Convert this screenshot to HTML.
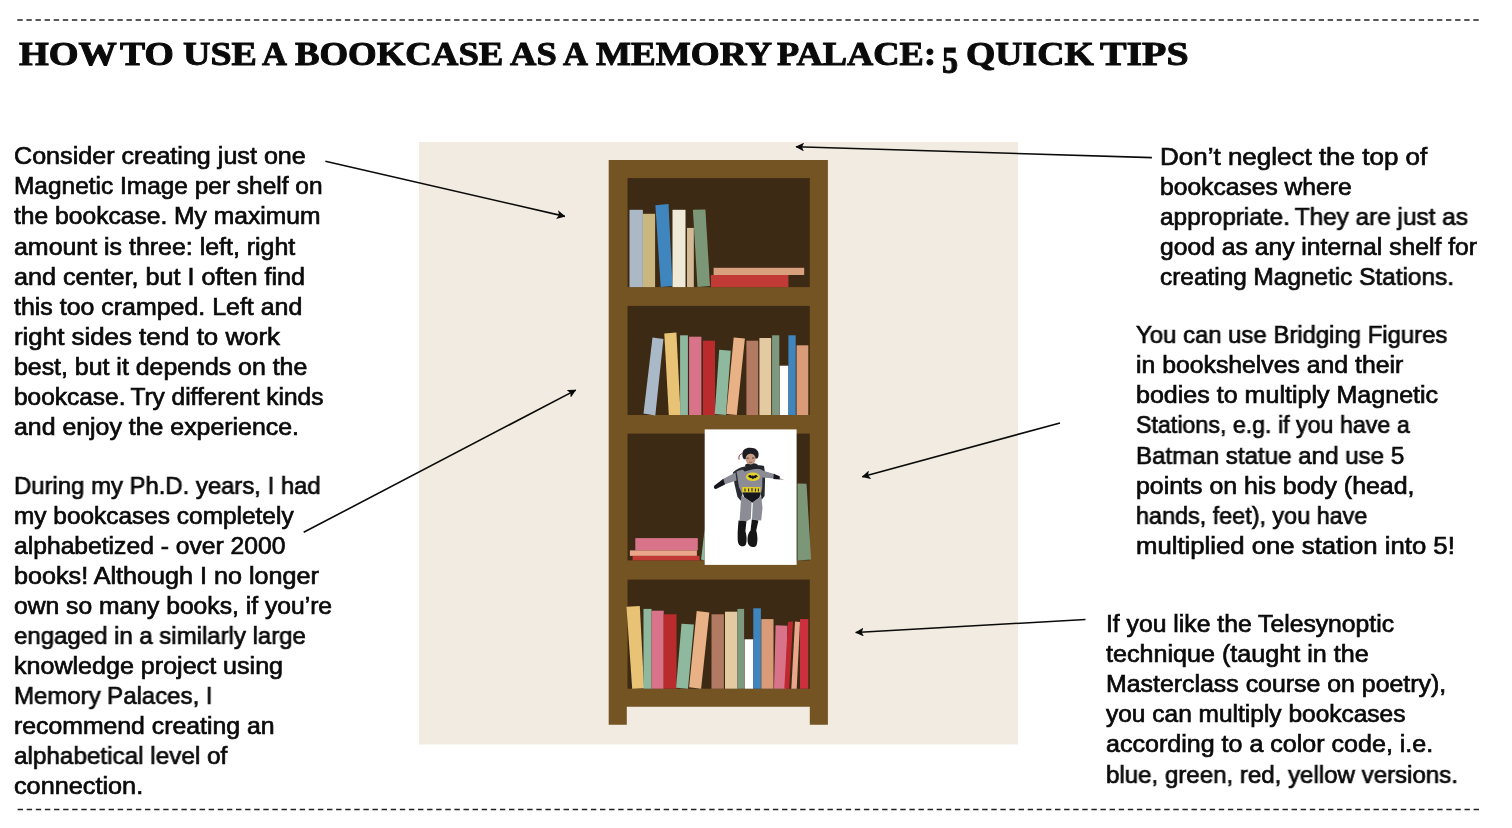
<!DOCTYPE html>
<html lang="en"><head><meta charset="utf-8"><title>How to use a bookcase as a Memory Palace</title>
<style>
html,body{margin:0;padding:0;background:#fff;}
body{width:1512px;height:828px;position:relative;overflow:hidden;font-family:"Liberation Sans",sans-serif;}
.t{position:absolute;white-space:nowrap;font-family:"Liberation Sans",sans-serif;font-size:24.4px;line-height:30px;color:#0a0a0a;transform-origin:0 0;-webkit-text-stroke:0.7px #0a0a0a;will-change:transform;}
.h{position:absolute;white-space:nowrap;font-family:"Liberation Serif",serif;font-weight:bold;font-size:34.4px;line-height:40px;color:#0a0a0a;transform-origin:0 0;-webkit-text-stroke:1px #0a0a0a;will-change:transform;}
svg{position:absolute;left:0;top:0;}
</style></head><body>
<svg width="1512" height="828" viewBox="0 0 1512 828">
<defs>
<marker id="ah" viewBox="0 0 8.6 8.8" refX="8" refY="4.4" markerWidth="8.6" markerHeight="8.8" markerUnits="userSpaceOnUse" orient="auto">
<path d="M0,0 L8.6,4.4 L0,8.8 L2,4.4 Z" fill="#0a0a0a"/>
</marker>
<filter id="soft" x="-10%" y="-10%" width="120%" height="120%"><feGaussianBlur stdDeviation="0.45"/></filter>
</defs>
<!-- dashed rules -->
<line x1="17.3" y1="20" x2="1479.2" y2="20" stroke="#222" stroke-width="1.5" stroke-dasharray="5.4 3.7"/>
<line x1="17.6" y1="809.6" x2="1479.2" y2="809.6" stroke="#222" stroke-width="1.5" stroke-dasharray="5.4 3.7"/>
<!-- beige panel -->
<rect x="419" y="142" width="599" height="602.5" fill="#f1ebe1"/>
<!-- bookcase frame -->
<path d="M608.7,160 H827.9 V724.8 H809.8 V706.7 H626.8 V724.8 H608.7 Z" fill="#745423"/>
<!-- shelf interiors -->
<g fill="#3d2a14">
<rect x="627.5" y="178.1" width="182.3" height="109"/>
<rect x="627.5" y="305.9" width="182.3" height="109.1"/>
<rect x="627.5" y="433.6" width="182.3" height="126.8"/>
<rect x="627.5" y="579.6" width="182.3" height="109.1"/>
</g>
<!-- shelf 1 books -->
<rect x="629.5" y="209.8" width="13.4" height="77.3" fill="#aab9c5"/>
<rect x="642.9" y="213.8" width="12.2" height="73.3" fill="#c9b681"/>
<polygon points="655.4,205.3 668.5,204 672.5,285.9 660.7,287.1" fill="#3f86be"/>
<rect x="672.5" y="209.8" width="13" height="77.3" fill="#efe9d8"/>
<rect x="687" y="227.9" width="6.8" height="59.2" fill="#d3bb97"/>
<polygon points="692.9,209.8 705.4,209.4 710,285.9 697.5,287.1" fill="#7c9778"/>
<rect x="713.6" y="267.8" width="90.6" height="7.2" fill="#d9a07e"/>
<rect x="710.9" y="275" width="77.5" height="12.1" fill="#c23a36"/>
<!-- shelf 2 books -->
<polygon points="652.5,337.5 663.4,338.9 655.3,415.4 643.5,413.6" fill="#aab9c8"/>
<polygon points="664.3,333.5 676.4,332.6 680.6,415 668.8,415" fill="#e8c376"/>
<rect x="680.1" y="335.3" width="7.8" height="79.7" fill="#8fb99f"/>
<rect x="689.1" y="336.7" width="12.3" height="78.3" fill="#d9738a"/>
<rect x="702.9" y="340.7" width="12.1" height="74.3" fill="#b92b2c"/>
<polygon points="719.2,349.8 730.8,350.7 725.9,415 714.7,414.1" fill="#8fb99f"/>
<polygon points="733.7,337.5 744.9,338.6 736.8,415 726.3,414.1" fill="#e8b286"/>
<rect x="746.4" y="340.7" width="11.8" height="74.3" fill="#b27a62"/>
<rect x="759.4" y="338" width="11.8" height="77" fill="#e3caa0"/>
<rect x="772.1" y="335.3" width="7.2" height="79.7" fill="#7d9a80"/>
<rect x="779.7" y="365.7" width="8.7" height="49.3" fill="#ffffff"/>
<rect x="788.4" y="335.3" width="7.3" height="79.7" fill="#3f86be"/>
<rect x="796.6" y="345.3" width="11.7" height="69.7" fill="#d99b78"/>
<!-- shelf 3 books -->
<rect x="635.3" y="538.1" width="62.5" height="12.3" fill="#d9738a"/>
<rect x="629.9" y="550.4" width="67" height="5.5" fill="#eaa58b"/>
<rect x="632.6" y="555.9" width="67" height="4.5" fill="#c23a36"/>
<polygon points="704.7,528.7 704.7,560.4 701.1,559.5" fill="#8fb99f"/>
<polygon points="797.5,483.4 806.5,483.8 811.1,559.5 797.5,560.4" fill="#7c9778"/>
<!-- photo -->
<rect x="704.7" y="429.4" width="91.9" height="135.5" fill="#ffffff"/>
<g id="batman" filter="url(#soft)">
<!-- cape behind -->
<path d="M732.8,472.8 C737,468 744,465.6 750,466.4 C756,465 761,464.6 764,466 L765.2,474 L764.6,496 L761.5,500 L758,482 L744,482 L741.5,501.5 L737.5,497 L734.5,484 Z" fill="#2a2c33"/>
<!-- left arm (viewer) -->
<path d="M735.5,472.5 L722.5,479.2 L724.3,484.6 L736.5,480.5 Z" fill="#8b8c95"/>
<path d="M723.3,478.8 L714.6,485.6 C713.2,487 713.8,489.3 716,488.9 L725,484.6 Z" fill="#16161b"/>
<!-- right arm -->
<path d="M761.5,470.2 L775,474.2 L774.3,478.4 L762,477.5 Z" fill="#8b8c95"/>
<path d="M773.8,473.8 L779.6,476.2 L780.2,479.6 L773.4,479 Z" fill="#16161b"/>
<path d="M779.5,477.8 L785,480.2 L779.8,479.8 Z" fill="#b9b3b3"/>
<!-- torso -->
<path d="M736.5,471.5 C741,468.6 759,467.6 762.5,470.2 L762.2,488 L760.8,494 L742.2,494 L739,487 Z" fill="#8b8c95"/>
<!-- collar -->
<path d="M742.5,469.3 C746,467 755,465.6 762.8,466.2 L763.6,468.6 C757,468 750,469.6 744.5,471.6 Z" fill="#23252b"/>
<ellipse cx="751.5" cy="465.6" rx="6.5" ry="2.6" fill="#23252b"/>
<!-- head -->
<path d="M742.4,455.5 C741.6,449.8 746,447.6 750.4,447.8 C755.5,447.8 759,450.6 758.6,455 C758.4,457.6 757.4,458.6 756.6,458.6 L744,459.2 C743,458.6 742.6,457.3 742.4,455.5 Z" fill="#1b1b21"/>
<ellipse cx="750.6" cy="458.9" rx="5" ry="5.5" fill="#c79a84"/>
<path d="M745,456.2 C747,452.6 754,452.4 756.4,455.6 L756.6,453 C754,449.6 747,449.8 745,453 Z" fill="#1b1b21"/>
<path d="M746.6,458.2 h2.2 M752,458 h2.2" stroke="#3a2a25" stroke-width="0.8"/>
<path d="M749.2,462.3 h2.6" stroke="#8a4a45" stroke-width="0.8"/>
<path d="M741.9,453.6 C739.4,454.4 738.4,456.8 739,459.6" stroke="#7a3a3a" stroke-width="1" fill="none"/>
<!-- emblem -->
<ellipse cx="752.9" cy="476.8" rx="7" ry="4.3" fill="#e6d12c"/>
<path d="M747.6,476.9 C748.6,475.2 750,474.8 751,475.3 L752,476.3 L752.9,475 L753.8,476.3 L754.8,475.3 C755.8,474.8 757.2,475.2 758.2,476.9 C757,476.6 756.2,477.2 756,478.2 C755,477.6 754,478 752.9,479.3 C751.8,478 750.8,477.6 749.8,478.2 C749.6,477.2 748.8,476.6 747.6,476.9 Z" fill="#17171b"/>
<!-- belt -->
<rect x="742.2" y="487" width="18.4" height="5.6" fill="#e2cc2a"/>
<path d="M745,488.4 v3 M748.6,488.4 v3 M752,488 v3.6 M755.4,488.4 v3 M758.4,488.4 v3" stroke="#2a2a1a" stroke-width="1.1"/>
<!-- briefs -->
<path d="M742.6,492.6 H760.6 L759.6,497.5 L752.3,502.8 L744.2,497.5 Z" fill="#15161b"/>
<!-- legs -->
<path d="M741.3,495.5 L744.4,497.2 L751.6,502.2 L750.8,519 L746,521.4 L739.6,520.6 Z" fill="#8b8c95"/>
<path d="M752.9,502.2 L759.6,497.4 L761.2,496 L762.5,508 L761.2,520.6 L752,519.6 Z" fill="#8b8c95"/>
<!-- boots -->
<path d="M738.6,520.4 L746.4,521.2 L745.4,531 C746.8,536 747.2,542 745.6,545 C743.6,547.4 739.4,546.6 738.2,543 C737.2,538 737.8,528 738.6,520.4 Z" fill="#121217"/>
<path d="M751.8,519.6 L758.4,520.4 L756.2,530.6 C757.6,536 758,542 756.4,545.4 C754.6,547.8 749.8,547.6 748.2,544 C746.8,540 747.6,533.6 750.6,530.6 Z" fill="#121217"/>
</g>
<!-- shelf 4 books -->
<polygon points="626.5,606.7 639.8,606.1 644.1,688.3 632.2,688.7" fill="#e8c376"/>
<rect x="643.5" y="608.9" width="8" height="79.8" fill="#8fb99f"/>
<rect x="651.5" y="610.7" width="12.2" height="78" fill="#d9738a"/>
<rect x="663.7" y="614.3" width="12.8" height="74.4" fill="#b92b2c"/>
<polygon points="681.5,623.7 693.9,624.6 688,688.7 676.1,687.8" fill="#8fb99f"/>
<polygon points="696.7,611.1 709.3,612.6 701.1,688.7 689.1,687.2" fill="#e8b286"/>
<rect x="711.5" y="614.3" width="12.4" height="74.4" fill="#b27a62"/>
<rect x="725" y="611.7" width="12.4" height="77" fill="#e3caa0"/>
<rect x="737.4" y="608.9" width="6.7" height="79.8" fill="#7d9a80"/>
<rect x="744.6" y="639.3" width="8.7" height="49.4" fill="#ffffff"/>
<rect x="753.3" y="608.3" width="7.6" height="80.4" fill="#3f86be"/>
<rect x="761.3" y="619.1" width="12.2" height="69.6" fill="#d99b78"/>
<polygon points="775.6,625.2 787.4,625.8 786,688.7 774,688.7" fill="#d9738a"/>
<polygon points="788,622 793,621.5 789.1,688.7 784.3,688.7" fill="#c0282f"/>
<polygon points="795,621.5 800,622 796.7,688.7 791.3,688.7" fill="#eaa58b"/>
<rect x="800" y="619.1" width="8.3" height="69.6" fill="#cc2f3e"/>
<!-- arrows -->
<g stroke="#0a0a0a" stroke-width="1.6" fill="none" marker-end="url(#ah)">
<line x1="325.4" y1="161.2" x2="564.9" y2="216.4"/>
<line x1="303.7" y1="532.3" x2="575.7" y2="390.1"/>
<line x1="1151.9" y1="157.6" x2="796" y2="146.8"/>
<line x1="1060" y1="422.9" x2="862.3" y2="476.8"/>
<line x1="1085.5" y1="619.5" x2="855.7" y2="632.5"/>
</g>
</svg>

<div class="h" style="left:19.00px;top:33.29px;transform:scaleX(1.1131)">HOW</div>
<div class="h" style="left:120.40px;top:33.29px;transform:scaleX(1.0949)">TO</div>
<div class="h" style="left:182.50px;top:33.29px;transform:scaleX(1.1037)">USE</div>
<div class="h" style="left:261.90px;top:33.29px;transform:scaleX(1.0040)">A</div>
<div class="h" style="left:294.80px;top:33.29px;transform:scaleX(1.0691)">BOOKCASE</div>
<div class="h" style="left:509.60px;top:33.29px;transform:scaleX(1.0622)">AS</div>
<div class="h" style="left:563.10px;top:33.29px;transform:scaleX(1.0040)">A</div>
<div class="h" style="left:595.70px;top:33.29px;transform:scaleX(1.0788)">MEMORY</div>
<div class="h" style="left:777.10px;top:33.29px;transform:scaleX(1.0579)">PALACE:</div>
<div class="h" style="left:966.40px;top:33.29px;transform:scaleX(1.0958)">QUICK</div>
<div class="h" style="left:1099.70px;top:33.29px;transform:scaleX(1.1589)">TIPS</div>
<div class="h" style="left:942.47px;top:38.37px;transform:scale(0.9267,1.0955)">5</div>
<div class="t" style="left:14.20px;top:141.30px;transform:scaleX(1.0297)">Consider creating just one</div>
<div class="t" style="left:14.20px;top:171.39px;transform:scaleX(1.0023)">Magnetic Image per shelf on</div>
<div class="t" style="left:14.20px;top:201.48px;transform:scaleX(1.0092)">the bookcase. My maximum</div>
<div class="t" style="left:14.20px;top:231.57px;transform:scaleX(1.0220)">amount is three: left, right</div>
<div class="t" style="left:14.20px;top:261.66px;transform:scaleX(1.0318)">and center, but I often find</div>
<div class="t" style="left:14.20px;top:291.75px;transform:scaleX(1.0223)">this too cramped. Left and</div>
<div class="t" style="left:14.20px;top:321.84px;transform:scaleX(1.0608)">right sides tend to work</div>
<div class="t" style="left:14.20px;top:351.93px;transform:scaleX(1.0202)">best, but it depends on the</div>
<div class="t" style="left:14.20px;top:382.02px;transform:scaleX(1.0027)">bookcase. Try different kinds</div>
<div class="t" style="left:14.20px;top:412.11px;transform:scaleX(1.0200)">and enjoy the experience.</div>
<div class="t" style="left:14.20px;top:470.55px;transform:scaleX(0.9792)">During my Ph.D. years, I had</div>
<div class="t" style="left:14.20px;top:500.63px;transform:scaleX(1.0012)">my bookcases completely</div>
<div class="t" style="left:14.20px;top:530.72px;transform:scaleX(1.0111)">alphabetized - over 2000</div>
<div class="t" style="left:14.20px;top:560.80px;transform:scaleX(1.0315)">books! Although I no longer</div>
<div class="t" style="left:14.20px;top:590.89px;transform:scaleX(1.0113)">own so many books, if you’re</div>
<div class="t" style="left:14.20px;top:620.97px;transform:scaleX(0.9830)">engaged in a similarly large</div>
<div class="t" style="left:14.20px;top:651.06px;transform:scaleX(1.0280)">knowledge project using</div>
<div class="t" style="left:14.20px;top:681.14px;transform:scaleX(0.9826)">Memory Palaces, I</div>
<div class="t" style="left:14.20px;top:711.23px;transform:scaleX(1.0166)">recommend creating an</div>
<div class="t" style="left:14.20px;top:741.31px;transform:scaleX(0.9950)">alphabetical level of</div>
<div class="t" style="left:14.20px;top:771.40px;transform:scaleX(1.0352)">connection.</div>
<div class="t" style="left:1159.70px;top:141.55px;transform:scaleX(1.0654)">Don’t neglect the top of</div>
<div class="t" style="left:1159.70px;top:171.58px;transform:scaleX(1.0093)">bookcases where</div>
<div class="t" style="left:1159.70px;top:201.61px;transform:scaleX(0.9978)">appropriate. They are just as</div>
<div class="t" style="left:1159.70px;top:231.64px;transform:scaleX(1.0119)">good as any internal shelf for</div>
<div class="t" style="left:1159.70px;top:261.67px;transform:scaleX(0.9992)">creating Magnetic Stations.</div>
<div class="t" style="left:1135.70px;top:319.95px;transform:scaleX(0.9800)">You can use Bridging Figures</div>
<div class="t" style="left:1135.70px;top:350.12px;transform:scaleX(1.0159)">in bookshelves and their</div>
<div class="t" style="left:1135.70px;top:380.29px;transform:scaleX(1.0269)">bodies to multiply Magnetic</div>
<div class="t" style="left:1135.70px;top:410.46px;transform:scaleX(0.9521)">Stations, e.g. if you have a</div>
<div class="t" style="left:1135.70px;top:440.63px;transform:scaleX(0.9888)">Batman statue and use 5</div>
<div class="t" style="left:1135.70px;top:470.80px;transform:scaleX(1.0219)">points on his body (head,</div>
<div class="t" style="left:1135.70px;top:500.97px;transform:scaleX(0.9585)">hands, feet), you have</div>
<div class="t" style="left:1135.70px;top:531.14px;transform:scaleX(1.0543)">multiplied one station into 5!</div>
<div class="t" style="left:1105.70px;top:608.65px;transform:scaleX(1.0133)">If you like the Telesynoptic</div>
<div class="t" style="left:1105.70px;top:638.82px;transform:scaleX(1.0304)">technique (taught in the</div>
<div class="t" style="left:1105.70px;top:668.99px;transform:scaleX(1.0202)">Masterclass course on poetry),</div>
<div class="t" style="left:1105.70px;top:699.16px;transform:scaleX(1.0041)">you can multiply bookcases</div>
<div class="t" style="left:1105.70px;top:729.33px;transform:scaleX(1.0270)">according to a color code, i.e.</div>
<div class="t" style="left:1105.70px;top:759.50px;transform:scaleX(0.9871)">blue, green, red, yellow versions.</div>
</body></html>
